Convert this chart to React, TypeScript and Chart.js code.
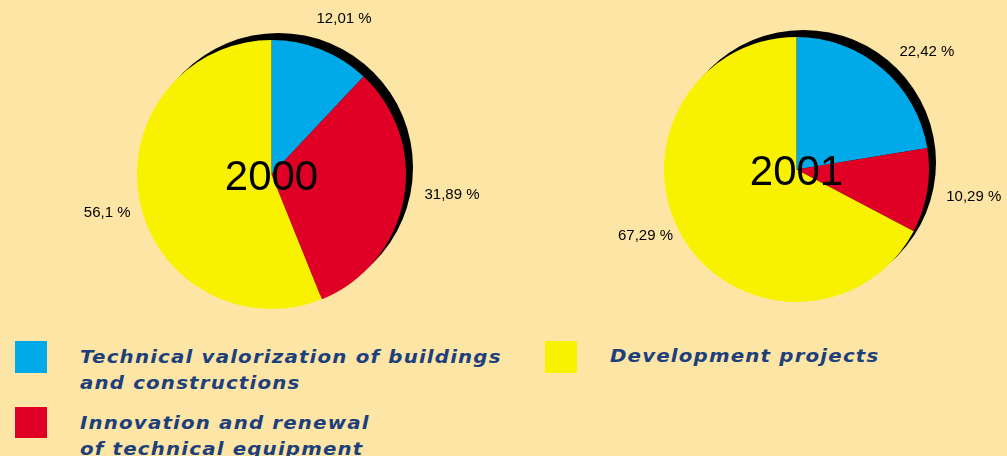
import React, { useEffect, useRef } from "react";
import { Chart, registerables } from "chart.js";

Chart.register(...registerables);

// ---- data ----
const categories = [
  "Technical valorization of buildings and constructions",
  "Innovation and renewal of technical equipment",
  "Development projects",
];
const years = ["2000", "2001"];
const values2000 = [12.01, 31.89, 56.1];
const values2001 = [22.42, 10.29, 67.29];
const valueLabels2000 = ["12,01 %", "31,89 %", "56,1 %"];
const valueLabels2001 = ["22,42 %", "10,29 %", "67,29 %"];
const legendLines1 = ["Technical valorization of buildings", "and constructions"];
const legendLines2 = ["Innovation and renewal", "of technical equipment"];
const legendLines3 = ["Development projects"];

// ---- styles ----
const BG = "#FDE5A5";
const colors = ["#00A9E8", "#E00025", "#F8F200"];
const TEXT_BLUE = "#1D3F7C";

type Nudge = [number, number];

function makeDecorPlugin(yearText: string, labels: string[], nudges: Nudge[]) {
  return {
    id: "pieDecor",
    beforeDatasetsDraw(chart: any) {
      const arc = chart.getDatasetMeta(0).data[0];
      if (!arc) return;
      const { x, y, outerRadius } = arc.getProps(["x", "y", "outerRadius"], true);
      const ctx = chart.ctx;
      ctx.save();
      ctx.fillStyle = "#000";
      ctx.beginPath();
      ctx.arc(x + 7, y - 7, outerRadius, 0, Math.PI * 2);
      ctx.fill();
      ctx.restore();
    },
    afterDatasetsDraw(chart: any) {
      const ctx = chart.ctx;
      const arcs = chart.getDatasetMeta(0).data;
      if (!arcs.length) return;
      const { x: cx, y: cy } = arcs[0].getProps(["x", "y"], true);
      ctx.save();
      ctx.fillStyle = "#000";
      ctx.font = "15px 'Liberation Sans', Arial, sans-serif";
      ctx.textAlign = "center";
      ctx.textBaseline = "middle";
      arcs.forEach((a: any, i: number) => {
        const { startAngle, endAngle, outerRadius } = a.getProps(
          ["startAngle", "endAngle", "outerRadius"],
          true
        );
        const mid = (startAngle + endAngle) / 2;
        const r = outerRadius + 38;
        const lx = cx + Math.cos(mid) * r + nudges[i][0];
        const ly = cy + Math.sin(mid) * r + nudges[i][1];
        ctx.fillText(labels[i], lx, ly);
      });
      ctx.font = "42px 'Liberation Sans', Arial, sans-serif";
      ctx.textBaseline = "alphabetic";
      ctx.fillText(yearText, cx, cy + 15);
      ctx.restore();
    },
  };
}

function PieCanvas(props: {
  values: number[];
  labels: string[];
  year: string;
  nudges: Nudge[];
  left: number;
  width: number;
  height: number;
  padding: { left: number; top: number; right: number; bottom: number };
}) {
  const ref = useRef<HTMLCanvasElement | null>(null);
  useEffect(() => {
    if (!ref.current) return;
    const chart = new Chart(ref.current, {
      type: "pie",
      data: {
        labels: categories,
        datasets: [
          {
            data: props.values,
            backgroundColor: colors,
            borderWidth: 0,
            clip: false as any,
          },
        ],
      },
      options: {
        animation: false,
        responsive: false,
        layout: { padding: props.padding },
        plugins: {
          legend: { display: false },
          tooltip: { enabled: false },
        },
      },
      plugins: [makeDecorPlugin(props.year, props.labels, props.nudges)],
    });
    return () => chart.destroy();
  }, []);
  return (
    <canvas
      ref={ref}
      width={props.width}
      height={props.height}
      style={{ position: "absolute", left: props.left, top: 0 }}
    />
  );
}

const legendText: React.CSSProperties = {
  position: "absolute",
  fontFamily: "'DejaVu Sans', sans-serif",
  fontWeight: "bold",
  fontStyle: "italic",
  fontSize: 17,
  lineHeight: "26px",
  letterSpacing: "1px",
  color: TEXT_BLUE,
  whiteSpace: "nowrap",
  transform: "scaleX(1.165)",
  transformOrigin: "left top",
};

export default function App() {
  return (
    <div
      style={{
        position: "absolute",
        left: 0,
        top: 0,
        width: 1007,
        height: 456,
        background: BG,
        overflow: "hidden",
      }}
    >
      <PieCanvas
        values={values2000}
        labels={valueLabels2000}
        year={years[0]}
        nudges={[[9, 5], [11, -11], [5, 6]]}
        left={0}
        width={530}
        height={320}
        padding={{ left: 137, top: 40, right: 124, bottom: 11 }}
      />
      <PieCanvas
        values={values2001}
        labels={valueLabels2001}
        year={years[1]}
        nudges={[[20, 12], [9, 0], [-5, -22]]}
        left={530}
        width={477}
        height={320}
        padding={{ left: 134, top: 37, right: 78, bottom: 18 }}
      />
      <div style={{ position: "absolute", left: 15, top: 341, width: 32, height: 32, background: colors[0] }} />
      <div style={{ position: "absolute", left: 15, top: 407, width: 32, height: 31, background: colors[1] }} />
      <div style={{ position: "absolute", left: 545, top: 341, width: 32, height: 32, background: colors[2] }} />
      <div style={{ ...legendText, left: 80, top: 344 }}>
        {legendLines1.map((l) => (
          <div key={l}>{l}</div>
        ))}
      </div>
      <div style={{ ...legendText, left: 80, top: 410 }}>
        {legendLines2.map((l) => (
          <div key={l}>{l}</div>
        ))}
      </div>
      <div style={{ ...legendText, left: 610, top: 343 }}>
        {legendLines3.map((l) => (
          <div key={l}>{l}</div>
        ))}
      </div>
    </div>
  );
}
